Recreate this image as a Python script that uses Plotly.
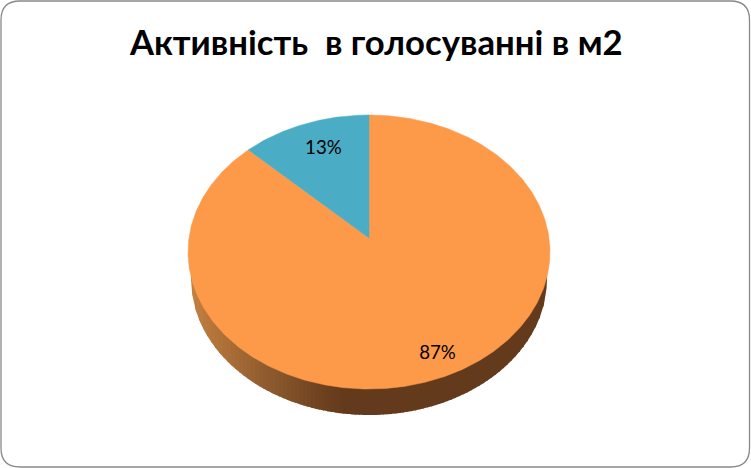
import numpy as np
import plotly.graph_objects as go

# Data
slice_values = [87, 13]
slice_colors = ["#FD9A4A", "#4BACC6"]
title_text = "Активність  в голосуванні в м2"

W, H = 751, 468
# Projected geometry of the tilted pie
CX, CY, RX, RY = 369, 252, 181, 137
APEX_Y = 238
RAY_RX = 176
LOW_CY, LOW_RX, LOW_RY = 279, 178, 136
label_fraction = [0.84, 0.78]
LABEL_DX = 4


def rim_point(theta):
    """Ray from the apex, at clockwise-from-top angle theta, hitting the top ellipse."""
    dx, dy = RAY_RX * np.sin(theta), -RY * np.cos(theta)
    oy = APEX_Y - CY
    a = (dx / RX) ** 2 + (dy / RY) ** 2
    b = 2 * oy * dy / RY ** 2
    c = (oy / RY) ** 2 - 1
    t = (-b + np.sqrt(b * b - 4 * a * c)) / (2 * a)
    return dx * t, dy * t


fig = go.Figure()


def rim_color(x):
    stops = [(190, (196, 128, 64)), (220, (176, 114, 56)), (270, (140, 90, 46)),
             (320, (111, 66, 31)), (345, (100, 58, 28)), (550, (100, 58, 28))]
    xs = [s[0] for s in stops]
    rgb = [int(round(np.interp(x, xs, [s[1][i] for s in stops]))) for i in range(3)]
    return "rgb(%d,%d,%d)" % tuple(rgb)


# Side wall: vertical gradient strips under the top face
edges = np.arange(CX - LOW_RX, CX + LOW_RX + 0.1, 4.0)
edges[-1] = CX + LOW_RX
for x0, x1 in zip(edges[:-1], edges[1:]):
    xs = np.linspace(x0, x1 + 0.8, 5)
    xs = np.clip(xs, CX - LOW_RX, CX + LOW_RX)
    ys = LOW_CY + LOW_RY * np.sqrt(1 - ((xs - CX) / LOW_RX) ** 2)
    fig.add_trace(go.Scatter(
        x=[xs[0], *xs, xs[-1]], y=[CY, *ys, CY], mode="lines", fill="toself",
        fillcolor=rim_color((x0 + x1) / 2), line=dict(width=0),
        hoverinfo="skip", showlegend=False))

# Top face slices
start = 0.0
total = sum(slice_values)
label_x, label_y, label_text = [], [], []
for value, color, frac in zip(slice_values, slice_colors, label_fraction):
    sweep = 2 * np.pi * value / total
    thetas = np.linspace(start, start + sweep, max(int(value * 6), 20))
    pts = [rim_point(t) for t in thetas]
    px = [CX] + [CX + p[0] for p in pts] + [CX]
    py = [APEX_Y] + [APEX_Y + p[1] for p in pts] + [APEX_Y]
    fig.add_trace(go.Scatter(
        x=px, y=py, mode="lines", fill="toself", fillcolor=color,
        line=dict(width=0.5, color=color), hoverinfo="skip", showlegend=False))
    mx, my = rim_point(start + sweep / 2)
    label_x.append(CX + LABEL_DX + mx * frac)
    label_y.append(APEX_Y + my * frac)
    label_text.append("%d%%" % round(100 * value / total))
    start += sweep

fig.add_trace(go.Scatter(
    x=label_x, y=label_y, mode="text", text=label_text, textposition="middle center",
    textfont=dict(family="Lato, 'Open Sans', sans-serif", size=18.7, color="#000000"),
    hoverinfo="skip", showlegend=False))

# Rounded chart border
L, T, R, B, r = 1, 1, 749.5, 467, 19
border = (f"M {L+r} {T} L {R-r} {T} Q {R} {T} {R} {T+r} L {R} {B-r} Q {R} {B} {R-r} {B} "
          f"L {L+r} {B} Q {L} {B} {L} {B-r} L {L} {T+r} Q {L} {T} {L+r} {T} Z")

fig.update_layout(
    width=W, height=H, margin=dict(l=0, r=0, t=0, b=0),
    paper_bgcolor="#FFFFFF", plot_bgcolor="#FFFFFF", showlegend=False,
    xaxis=dict(range=[0, W], visible=False, fixedrange=True),
    yaxis=dict(range=[H, 0], visible=False, fixedrange=True),
    shapes=[dict(type="path", path=border, line=dict(color="#898989", width=1.3), layer="below")],
    annotations=[dict(
        text=title_text, x=376, y=41, xref="x", yref="y", showarrow=False,
        xanchor="center", yanchor="middle",
        font=dict(family="Lato, 'Open Sans', sans-serif", size=34.7, color="#000000", weight="bold"))],
)

fig.write_html("out.html", config={"displayModeBar": False},
               post_script="document.body.style.margin='0';document.body.style.overflow='hidden';")
